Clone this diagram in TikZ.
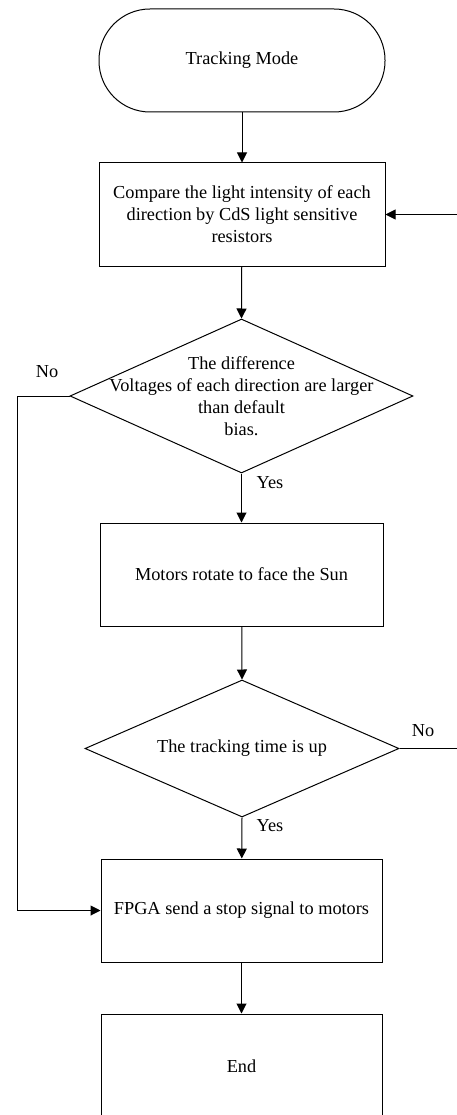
\documentclass[tikz,border=0pt]{standalone}
\usepackage{fontspec}
\setmainfont{Liberation Serif}
\usetikzlibrary{arrows.meta,shapes.geometric}
\begin{document}
\begin{tikzpicture}[x=1pt,y=-1pt,
  font=\fontsize{18.3}{22}\selectfont,
  line width=1pt,
  arr/.style={-{Triangle[length=10pt,width=10pt]}},
  box/.style={draw, rectangle, inner sep=0pt, minimum height=103pt, align=center},
  dia/.style={draw, diamond, inner sep=0pt},
  lbl/.style={inner sep=0pt, align=center}]
\useasboundingbox (0,0) rectangle (456,1115);

\node[draw, rectangle, rounded corners=51pt, minimum width=286pt, minimum height=103pt] (start) at (242,60.5) {Tracking Mode};
\node[box, minimum width=286pt] (b1) at (242,214.5) {Compare the light intensity of each\\direction by CdS light sensitive\\resistors};
\node[dia, minimum width=343pt, minimum height=154pt] (d1) at (241.5,396) {};
\node[lbl] (t1) at (241.5,396) {The difference\\Voltages of each direction are larger\\than default\\bias.};
\node[box, minimum width=283pt] (b2) at (241.5,574.5) {Motors rotate to face the Sun};
\node[dia, minimum width=314pt, minimum height=137pt] (d2) at (242,748.5) {};
\node[lbl] (t2) at (242,748.5) {The tracking time is up};
\node[box, minimum width=281pt] (b3) at (241.5,910.5) {FPGA send a stop signal to motors};
\node[box, minimum width=281pt, minimum height=104pt] (b4) at (241.5,1066) {End};

\node[lbl] (no1) at (47,372) {No};
\node[lbl] (yes1) at (270,483) {Yes};
\node[lbl] (no2) at (423,731) {No};
\node[lbl] (yes2) at (270,826) {Yes};

\coordinate (rr) at (458,748.5);

\draw[arr] (start) -- (b1);
\draw[arr] (b1) -- (d1.north);
\draw[arr] (d1.south) -- (b2);
\draw[arr] (b2) -- (d2.north);
\draw[arr] (d2.south) -- (b3);
\draw[arr] (b3) -- (b4);
\draw[arr] (d1.west) -- ++(-52,0) |- (b3.west);
\draw[arr] (d2.east) -- (rr) |- (b1.east);
\end{tikzpicture}
\end{document}
